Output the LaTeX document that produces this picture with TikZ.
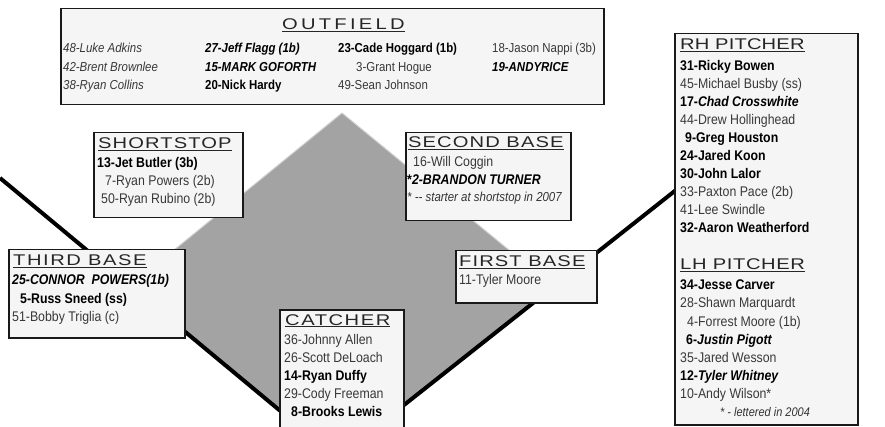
\documentclass[tikz,border=0pt]{standalone}
\usepackage{fontspec}
\setmainfont{Liberation Sans}
\newfontfamily\narrowfont{Liberation Sans}[FakeStretch=0.88]
\newfontfamily\titlefont{Liberation Sans}[FakeStretch=1.3, LetterSpace=7]
\usetikzlibrary{positioning}
\newcommand\pbold[1]{{\bfseries\color{black}#1}}
\newcommand\pbit[1]{{\bfseries\itshape\color{black}#1}}
\newcommand\pit[1]{{\itshape #1}}

\begin{document}
\begin{tikzpicture}[x=1pt, y=-1pt,
    rosterbox/.style={draw=black!90, line width=1.5pt, fill=black!4, anchor=north west, inner sep=0pt},
    postitle/.style={anchor=base west, inner sep=0pt, font=\titlefont\fontsize{15.5}{15.5}\selectfont, text=black!85},
    player/.style={anchor=base west, inner sep=0pt, font=\narrowfont\fontsize{14}{14}\selectfont, text=black!78},
    ofplayer/.style={player, font=\narrowfont\fontsize{13}{13}\selectfont},
    footnote/.style={anchor=base west, inner sep=0pt, font=\narrowfont\itshape\fontsize{12.5}{12.5}\selectfont, text=black!80},
    foul/.style={line width=4pt}]
    \useasboundingbox (0,0) rectangle (885,427);
    % infield
    \coordinate (home) at (337,458);
    \coordinate (third) at (130,286);
    \coordinate (second) at (342,113);
    \coordinate (first) at (554,287);
    \fill[black!36] (home) -- (third) -- (second) -- (first) -- cycle;
    \draw[black!18, line width=1pt] (third) -- (second) -- (first);
    % foul lines
    \coordinate (lf) at (0,178);
    \coordinate (rf) at (676,190);
    \draw[foul] (lf) -- (home);
    \draw[foul] (rf) -- (home);
    % outfield
    \node[rosterbox, minimum width=543pt, minimum height=96pt] (ofbox) at (60,8) {};
    \node[postitle] (oftitle) at (282,30) {\addfontfeature{LetterSpace=21}\underline{OUTFIELD}};
    \foreach \t [count=\i from 0] in {\pit{48-Luke Adkins}, \pit{42-Brent Brownlee}, \pit{38-Ryan Collins}}
      \node[ofplayer] (ofa-\i) at (63, 53+\i*18.5) {\t};
    \foreach \t [count=\i from 0] in {\pbit{27-Jeff Flagg (1b)}, \pbit{15-MARK GOFORTH}, \pbold{20-Nick Hardy}}
      \node[ofplayer] (ofb-\i) at (205, 53+\i*18.5) {\t};
    \foreach \t [count=\i from 0] in {\pbold{23-Cade Hoggard (1b)}, \hspace*{18pt}3-Grant Hogue, 49-Sean Johnson}
      \node[ofplayer] (ofc-\i) at (338, 53+\i*18.5) {\t};
    \foreach \t [count=\i from 0] in {18-Jason Nappi (3b), \pbit{19-ANDYRICE}}
      \node[ofplayer] (ofd-\i) at (492, 53+\i*18.5) {\t};
    % shortstop
    \node[rosterbox, minimum width=149pt, minimum height=85pt] (ssbox) at (93,132) {};
    \node[postitle] (sstitle) at (98,149) {\underline{SHORTSTOP}};
    \foreach \t [count=\i from 0] in {\pbold{13-Jet Butler (3b)}, \hspace*{8pt}7-Ryan Powers (2b), \hspace*{4pt}50-Ryan Rubino (2b)}
      \node[player] (ss-\i) at (97, 168+\i*18) {\t};
    % second base
    \node[rosterbox, minimum width=165pt, minimum height=88pt] (sbbox) at (405,132) {};
    \node[postitle] (sbtitle) at (408,148) {\underline{SECOND BASE}};
    \node[player] (sb-0) at (413,167) {16-Will Coggin};
    \node[player] (sb-1) at (407,185) {\pbold{*}\pbit{2-BRANDON TURNER}};
    \node[footnote, font=\narrowfont\itshape\fontsize{13}{13}\selectfont] (sbnote) at (407,202) {* -- starter at shortstop in 2007};
    % third base
    \node[rosterbox, minimum width=176pt, minimum height=88pt] (tbbox) at (8,249) {};
    \node[postitle] (tbtitle) at (13,266) {\addfontfeature{LetterSpace=10}\underline{THIRD BASE}};
    \foreach \t [count=\i from 0] in {\pbit{25-CONNOR\ \ POWERS(1b)}, \hspace*{8pt}\pbold{5-Russ Sneed (ss)}, 51-Bobby Triglia (c)}
      \node[player] (tb-\i) at (12, 285+\i*18) {\t};
    % first base
    \node[rosterbox, minimum width=141pt, minimum height=52pt] (fbbox) at (455,250) {};
    \node[postitle] (fbtitle) at (459,267) {\underline{FIRST BASE}};
    \node[player] (fb-0) at (459,285) {11-Tyler Moore};
    % catcher
    \node[rosterbox, minimum width=124pt, minimum height=130pt] (cbox) at (279,309) {};
    \node[postitle] (ctitle) at (285,325) {\addfontfeature{LetterSpace=10}\underline{CATCHER}};
    \foreach \t [count=\i from 0] in {36-Johnny Allen, 26-Scott DeLoach, \pbold{14-Ryan Duffy}, 29-Cody Freeman, \hspace*{7pt}\pbold{8-Brooks Lewis}}
      \node[player] (c-\i) at (284, 344+\i*18.2) {\t};
    % pitchers
    \node[rosterbox, minimum width=183pt, minimum height=391pt] (pbox) at (674,33) {};
    \node[postitle] (rhtitle) at (680,50) {\addfontfeature{LetterSpace=1}\underline{RH PITCHER}};
    \foreach \t [count=\i from 0] in {\pbold{31-Ricky Bowen}, 45-Michael Busby (ss), \pbold{17-}\pbit{Chad Crosswhite},
        44-Drew Hollinghead, \hspace*{5pt}\pbold{9-Greg Houston}, \pbold{24-Jared Koon}, \pbold{30-John Lalor},
        33-Paxton Pace (2b), 41-Lee Swindle, \pbold{32-Aaron Weatherford}}
      \node[player] (rh-\i) at (680, 70.5+\i*17.95) {\t};
    \node[postitle] (lhtitle) at (680,270) {\addfontfeature{LetterSpace=4}\underline{LH PITCHER}};
    \foreach \t [count=\i from 0] in {\pbold{34-Jesse Carver}, 28-Shawn Marquardt, \hspace*{7pt}4-Forrest Moore (1b),
        \hspace*{6pt}\pbold{6-}\pbit{Justin Pigott}, 35-Jared Wesson, \pbold{12-}\pbit{Tyler Whitney}, 10-Andy Wilson*}
      \node[player] (lh-\i) at (680, 290+\i*18) {\t};
    \node[footnote, anchor=base] (lhnote) at (765,416) {* - lettered in 2004};
\end{tikzpicture}
\end{document}
